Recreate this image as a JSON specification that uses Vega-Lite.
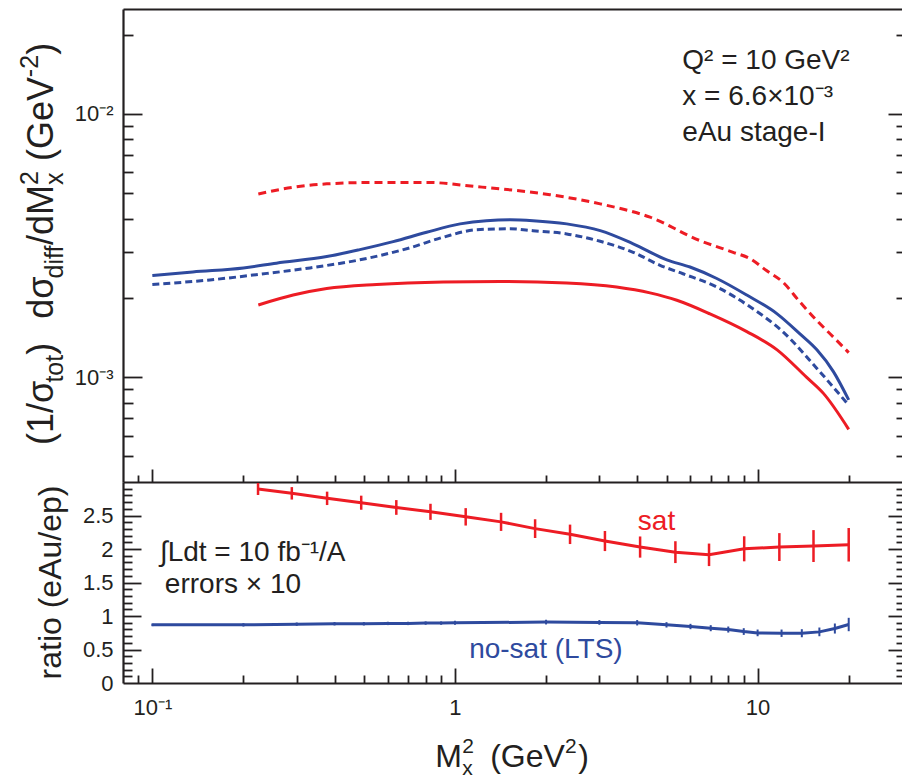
{
  "$schema": "https://vega.github.io/schema/vega-lite/v6.json",
  "width": 779,
  "height": 674,
  "autosize": {"type": "none"},
  "padding": {"left": 123, "top": 9, "right": 0, "bottom": 96},
  "background": "white",
  "config": {
    "view": {"stroke": null},
    "font": "Liberation Sans",
    "axis": {"domainColor": "#231f20", "tickColor": "#231f20", "labelColor": "#231f20", "titleColor": "#231f20", "domainWidth": 2.2, "tickWidth": 1.8, "grid": false, "labelFont": "Liberation Sans", "titleFont": "Liberation Sans"},
    "text": {"font": "Liberation Sans"}
  },
  "datasets": {
    "top": [
      {"series": "no-sat ep", "x": 0.1, "y": 0.00243}, {"series": "no-sat ep", "x": 0.136, "y": 0.00251}, {"series": "no-sat ep", "x": 0.2, "y": 0.0026}, {"series": "no-sat ep", "x": 0.257, "y": 0.00271}, {"series": "no-sat ep", "x": 0.377, "y": 0.00287}, {"series": "no-sat ep", "x": 0.485, "y": 0.00305}, {"series": "no-sat ep", "x": 0.625, "y": 0.00327}, {"series": "no-sat ep", "x": 0.806, "y": 0.00355}, {"series": "no-sat ep", "x": 1.04, "y": 0.00382}, {"series": "no-sat ep", "x": 1.27, "y": 0.00393}, {"series": "no-sat ep", "x": 1.52, "y": 0.00396}, {"series": "no-sat ep", "x": 1.81, "y": 0.00393}, {"series": "no-sat ep", "x": 2.34, "y": 0.00382}, {"series": "no-sat ep", "x": 3.02, "y": 0.0036}, {"series": "no-sat ep", "x": 3.88, "y": 0.00321}, {"series": "no-sat ep", "x": 5.01, "y": 0.00279}, {"series": "no-sat ep", "x": 5.98, "y": 0.00262}, {"series": "no-sat ep", "x": 7.33, "y": 0.00237}, {"series": "no-sat ep", "x": 9.21, "y": 0.00205}, {"series": "no-sat ep", "x": 11.6, "y": 0.00174}, {"series": "no-sat ep", "x": 13.8, "y": 0.00146}, {"series": "no-sat ep", "x": 15.7, "y": 0.00127}, {"series": "no-sat ep", "x": 17.8, "y": 0.00105}, {"series": "no-sat ep", "x": 20, "y": 0.00082},
      {"series": "no-sat eAu", "x": 0.1, "y": 0.00225}, {"series": "no-sat eAu", "x": 0.155, "y": 0.00234}, {"series": "no-sat eAu", "x": 0.227, "y": 0.00246}, {"series": "no-sat eAu", "x": 0.332, "y": 0.0026}, {"series": "no-sat eAu", "x": 0.485, "y": 0.00279}, {"series": "no-sat eAu", "x": 0.71, "y": 0.0031}, {"series": "no-sat eAu", "x": 0.915, "y": 0.0034}, {"series": "no-sat eAu", "x": 1.18, "y": 0.00363}, {"series": "no-sat eAu", "x": 1.52, "y": 0.00366}, {"series": "no-sat eAu", "x": 1.81, "y": 0.0036}, {"series": "no-sat eAu", "x": 2.34, "y": 0.0035}, {"series": "no-sat eAu", "x": 3.02, "y": 0.00328}, {"series": "no-sat eAu", "x": 3.88, "y": 0.00298}, {"series": "no-sat eAu", "x": 4.76, "y": 0.00266}, {"series": "no-sat eAu", "x": 5.67, "y": 0.00247}, {"series": "no-sat eAu", "x": 7.33, "y": 0.0022}, {"series": "no-sat eAu", "x": 9.44, "y": 0.00185}, {"series": "no-sat eAu", "x": 12.1, "y": 0.00149}, {"series": "no-sat eAu", "x": 15.7, "y": 0.00108}, {"series": "no-sat eAu", "x": 20, "y": 0.000783},
      {"series": "sat ep", "x": 0.224, "y": 0.00188}, {"series": "sat ep", "x": 0.292, "y": 0.00205}, {"series": "sat ep", "x": 0.377, "y": 0.00217}, {"series": "sat ep", "x": 0.551, "y": 0.00225}, {"series": "sat ep", "x": 0.915, "y": 0.0023}, {"series": "sat ep", "x": 1.41, "y": 0.00231}, {"series": "sat ep", "x": 2.34, "y": 0.00228}, {"series": "sat ep", "x": 3.42, "y": 0.0022}, {"series": "sat ep", "x": 4.41, "y": 0.00209}, {"series": "sat ep", "x": 5.41, "y": 0.00196}, {"series": "sat ep", "x": 6.96, "y": 0.00174}, {"series": "sat ep", "x": 9.21, "y": 0.00149}, {"series": "sat ep", "x": 11.6, "y": 0.00127}, {"series": "sat ep", "x": 14.5, "y": 0.001}, {"series": "sat ep", "x": 16.5, "y": 0.000868}, {"series": "sat ep", "x": 20, "y": 0.000634},
      {"series": "sat eAu", "x": 0.224, "y": 0.00496}, {"series": "sat eAu", "x": 0.292, "y": 0.00526}, {"series": "sat eAu", "x": 0.377, "y": 0.00542}, {"series": "sat eAu", "x": 0.551, "y": 0.00549}, {"series": "sat eAu", "x": 0.806, "y": 0.00549}, {"series": "sat eAu", "x": 1.18, "y": 0.00529}, {"series": "sat eAu", "x": 1.41, "y": 0.00519}, {"series": "sat eAu", "x": 2.06, "y": 0.00493}, {"series": "sat eAu", "x": 3.02, "y": 0.00455}, {"series": "sat eAu", "x": 4.41, "y": 0.00405}, {"series": "sat eAu", "x": 6.45, "y": 0.0033}, {"series": "sat eAu", "x": 8.3, "y": 0.00298}, {"series": "sat eAu", "x": 9.44, "y": 0.00282}, {"series": "sat eAu", "x": 10.7, "y": 0.00254}, {"series": "sat eAu", "x": 12.1, "y": 0.0023}, {"series": "sat eAu", "x": 13.8, "y": 0.00193}, {"series": "sat eAu", "x": 15.7, "y": 0.00164}, {"series": "sat eAu", "x": 17.8, "y": 0.00142}, {"series": "sat eAu", "x": 20, "y": 0.00124}
    ],
    "ratio": [
      {"series": "sat", "x": 0.2235, "r": 2.896, "lo": 2.806, "hi": 2.986}, {"series": "sat", "x": 0.289, "r": 2.831, "lo": 2.738, "hi": 2.924}, {"series": "sat", "x": 0.378, "r": 2.756, "lo": 2.656, "hi": 2.856}, {"series": "sat", "x": 0.49, "r": 2.691, "lo": 2.586, "hi": 2.796}, {"series": "sat", "x": 0.64, "r": 2.62, "lo": 2.51, "hi": 2.73}, {"series": "sat", "x": 0.83, "r": 2.555, "lo": 2.435, "hi": 2.675}, {"series": "sat", "x": 1.085, "r": 2.48, "lo": 2.35, "hi": 2.61}, {"series": "sat", "x": 1.42, "r": 2.405, "lo": 2.27, "hi": 2.54}, {"series": "sat", "x": 1.84, "r": 2.304, "lo": 2.164, "hi": 2.444}, {"series": "sat", "x": 2.4, "r": 2.219, "lo": 2.074, "hi": 2.364}, {"series": "sat", "x": 3.13, "r": 2.119, "lo": 1.969, "hi": 2.269}, {"series": "sat", "x": 4.09, "r": 2.029, "lo": 1.871, "hi": 2.187}, {"series": "sat", "x": 5.35, "r": 1.953, "lo": 1.79, "hi": 2.116}, {"series": "sat", "x": 6.91, "r": 1.913, "lo": 1.745, "hi": 2.081}, {"series": "sat", "x": 9.03, "r": 2.003, "lo": 1.816, "hi": 2.19}, {"series": "sat", "x": 11.8, "r": 2.029, "lo": 1.821, "hi": 2.237}, {"series": "sat", "x": 15.3, "r": 2.044, "lo": 1.806, "hi": 2.282}, {"series": "sat", "x": 20, "r": 2.063, "lo": 1.813, "hi": 2.313},
      {"series": "no-sat", "x": 0.1, "r": 0.868, "lo": 0.848, "hi": 0.888}, {"series": "no-sat", "x": 0.2, "r": 0.868, "lo": 0.843, "hi": 0.893}, {"series": "no-sat", "x": 0.3, "r": 0.878, "lo": 0.853, "hi": 0.903}, {"series": "no-sat", "x": 0.4, "r": 0.884, "lo": 0.859, "hi": 0.909}, {"series": "no-sat", "x": 0.5, "r": 0.884, "lo": 0.859, "hi": 0.909}, {"series": "no-sat", "x": 0.6, "r": 0.889, "lo": 0.864, "hi": 0.914}, {"series": "no-sat", "x": 0.7, "r": 0.889, "lo": 0.864, "hi": 0.914}, {"series": "no-sat", "x": 0.8, "r": 0.894, "lo": 0.869, "hi": 0.919}, {"series": "no-sat", "x": 0.9, "r": 0.894, "lo": 0.869, "hi": 0.919}, {"series": "no-sat", "x": 1, "r": 0.899, "lo": 0.869, "hi": 0.929}, {"series": "no-sat", "x": 2, "r": 0.909, "lo": 0.874, "hi": 0.944}, {"series": "no-sat", "x": 3, "r": 0.904, "lo": 0.869, "hi": 0.939}, {"series": "no-sat", "x": 4, "r": 0.899, "lo": 0.859, "hi": 0.939}, {"series": "no-sat", "x": 5, "r": 0.868, "lo": 0.828, "hi": 0.908}, {"series": "no-sat", "x": 6, "r": 0.843, "lo": 0.803, "hi": 0.883}, {"series": "no-sat", "x": 7, "r": 0.818, "lo": 0.773, "hi": 0.863}, {"series": "no-sat", "x": 8, "r": 0.798, "lo": 0.753, "hi": 0.843}, {"series": "no-sat", "x": 9, "r": 0.768, "lo": 0.718, "hi": 0.818}, {"series": "no-sat", "x": 10, "r": 0.748, "lo": 0.698, "hi": 0.798}, {"series": "no-sat", "x": 12, "r": 0.743, "lo": 0.688, "hi": 0.798}, {"series": "no-sat", "x": 14, "r": 0.743, "lo": 0.683, "hi": 0.803}, {"series": "no-sat", "x": 16, "r": 0.763, "lo": 0.698, "hi": 0.828}, {"series": "no-sat", "x": 18, "r": 0.813, "lo": 0.738, "hi": 0.888}, {"series": "no-sat", "x": 20, "r": 0.873, "lo": 0.773, "hi": 0.973}
    ],
    "ytitle": [
      {"t": "(1/σ", "x": 0.0469, "y": 0.0005526, "role": "main"},
      {"t": "tot", "x": 0.0469, "y": 0.0009538, "role": "sub"},
      {"t": ")", "x": 0.0469, "y": 0.0012165, "role": "main"},
      {"t": "dσ", "x": 0.0469, "y": 0.0016661, "role": "main"},
      {"t": "diff", "x": 0.0469, "y": 0.0023718, "role": "sub"},
      {"t": "/dM", "x": 0.0469, "y": 0.0031759, "role": "main"},
      {"t": "x", "x": 0.0469, "y": 0.0053665, "role": "sub"},
      {"t": "2", "x": 0.0469, "y": 0.0053665, "role": "sup"},
      {"t": "(GeV", "x": 0.0469, "y": 0.0066139, "role": "main"},
      {"t": "-2", "x": 0.0469, "y": 0.013781, "role": "sup"},
      {"t": ")", "x": 0.0469, "y": 0.016741, "role": "main"}
    ],
    "xtitle": [
      {"t": "M", "x": 0.86, "y": -1.254, "role": "main"},
      {"t": "2", "x": 1.056, "y": -1.254, "role": "sup"},
      {"t": "x", "x": 1.056, "y": -1.254, "role": "sub"},
      {"t": "(GeV", "x": 1.307, "y": -1.254, "role": "main"},
      {"t": "2", "x": 2.31, "y": -1.254, "role": "sup"},
      {"t": ")", "x": 2.555, "y": -1.254, "role": "main"}
    ],
    "annTop": [
      {"t": "Q² = 10 GeV²", "x": 5.64, "y": 0.01481},
      {"t": "x = 6.6×10⁻³", "x": 5.64, "y": 0.01082},
      {"t": "eAu stage-I", "x": 5.64, "y": 0.0079}
    ],
    "annBot": [
      {"t": "∫Ldt = 10 fb⁻¹/A", "x": 0.106, "y": 1.821, "kind": "note"},
      {"t": "errors × 10", "x": 0.11, "y": 1.343, "kind": "note"},
      {"t": "sat", "x": 4.02, "y": 2.284, "kind": "sat"},
      {"t": "no-sat (LTS)", "x": 1.114, "y": 0.373, "kind": "no-sat"}
    ]
  },
  "layer": [
    {
      "layer": [
        {
          "data": {"name": "top"},
          "transform": [{"filter": "datum.series == 'no-sat ep'"}],
          "mark": {"type": "line", "color": "#2e4a9e", "strokeWidth": 3, "interpolate": "monotone"},
          "encoding": {
            "x": {"field": "x", "type": "quantitative", "scale": {"type": "log", "domain": [0.08, 30], "nice": false},
              "axis": {"orient": "bottom", "offset": -201, "values": [0.09, 0.1, 0.2, 0.3, 0.4, 0.5, 0.6, 0.7, 0.8, 0.9, 1, 2, 3, 4, 5, 6, 7, 8, 9, 10, 20],
                "tickSize": {"condition": {"test": "abs(log(datum.value)/LN10 - round(log(datum.value)/LN10)) < 0.001", "value": -13}, "value": -7},
                "labels": false, "domain": true, "title": null}},
            "y": {"field": "y", "type": "quantitative", "scale": {"type": "log", "domain": [0.0004, 0.025], "range": [473, 0], "nice": false},
              "axis": {"orient": "left", "values": [0.0005, 0.0006, 0.0007, 0.0008, 0.0009, 0.001, 0.002, 0.003, 0.004, 0.005, 0.006, 0.007, 0.008, 0.009, 0.01, 0.02],
                "tickSize": {"condition": {"test": "abs(log(datum.value)/LN10 - round(log(datum.value)/LN10)) < 0.001", "value": -19}, "value": -10},
                "labels": false, "domain": true, "title": null}}
          }
        },
        {
          "data": {"name": "top"},
          "transform": [{"filter": "datum.series == 'no-sat eAu'"}],
          "mark": {"type": "line", "color": "#2e4a9e", "strokeWidth": 3, "strokeDash": [7, 4], "interpolate": "monotone"},
          "encoding": {
            "x": {"field": "x", "type": "quantitative", "scale": {"type": "log", "domain": [0.08, 30], "nice": false},
              "axis": {"orient": "top", "ticks": false, "labels": false, "domain": true, "title": null}},
            "y": {"field": "y", "type": "quantitative", "scale": {"type": "log", "domain": [0.0004, 0.025], "range": [473, 0], "nice": false},
              "axis": {"orient": "left", "values": [0.001, 0.01], "ticks": false, "domain": false, "labelFontSize": 22, "labelPadding": 10,
                "labelExpr": "datum.value < 0.005 ? '10⁻³' : '10⁻²'", "title": null}}
          }
        },
        {
          "data": {"name": "top"},
          "transform": [{"filter": "datum.series == 'sat ep'"}],
          "mark": {"type": "line", "color": "#ed1c24", "strokeWidth": 3, "interpolate": "monotone"},
          "encoding": {
            "x": {"field": "x", "type": "quantitative", "scale": {"type": "log", "domain": [0.08, 30], "nice": false}, "axis": null},
            "y": {"field": "y", "type": "quantitative", "scale": {"type": "log", "domain": [0.0004, 0.025], "range": [473, 0], "nice": false},
              "axis": {"orient": "right", "values": [0.0005, 0.0006, 0.0007, 0.0008, 0.0009, 0.001, 0.002, 0.003, 0.004, 0.005, 0.006, 0.007, 0.008, 0.009, 0.01, 0.02],
                "tickSize": {"condition": {"test": "abs(log(datum.value)/LN10 - round(log(datum.value)/LN10)) < 0.001", "value": -14}, "value": -6},
                "labels": false, "domain": false, "title": null}}
          }
        },
        {
          "data": {"name": "top"},
          "transform": [{"filter": "datum.series == 'sat eAu'"}],
          "mark": {"type": "line", "color": "#ed1c24", "strokeWidth": 3, "strokeDash": [8, 5], "interpolate": "monotone"},
          "encoding": {
            "x": {"field": "x", "type": "quantitative", "scale": {"type": "log", "domain": [0.08, 30], "nice": false}, "axis": null},
            "y": {"field": "y", "type": "quantitative", "scale": {"type": "log", "domain": [0.0004, 0.025], "range": [473, 0], "nice": false}, "axis": null}
          }
        },
        {
          "data": {"name": "ytitle"},
          "transform": [{"filter": "datum.role == 'main'"}],
          "mark": {"type": "text", "angle": 270, "align": "left", "baseline": "alphabetic", "fontSize": 36, "color": "#231f20"},
          "encoding": {
            "x": {"field": "x", "type": "quantitative", "scale": {"type": "log", "domain": [0.08, 30], "nice": false}, "axis": null},
            "y": {"field": "y", "type": "quantitative", "scale": {"type": "log", "domain": [0.0004, 0.025], "range": [473, 0], "nice": false}, "axis": null},
            "text": {"field": "t"}
          }
        },
        {
          "data": {"name": "ytitle"},
          "transform": [{"filter": "datum.role == 'sub'"}],
          "mark": {"type": "text", "angle": 270, "align": "left", "baseline": "alphabetic", "fontSize": 25, "dy": 10, "color": "#231f20"},
          "encoding": {
            "x": {"field": "x", "type": "quantitative", "scale": {"type": "log", "domain": [0.08, 30], "nice": false}, "axis": null},
            "y": {"field": "y", "type": "quantitative", "scale": {"type": "log", "domain": [0.0004, 0.025], "range": [473, 0], "nice": false}, "axis": null},
            "text": {"field": "t"}
          }
        },
        {
          "data": {"name": "ytitle"},
          "transform": [{"filter": "datum.role == 'sup'"}],
          "mark": {"type": "text", "angle": 270, "align": "left", "baseline": "alphabetic", "fontSize": 25, "dy": -15, "color": "#231f20"},
          "encoding": {
            "x": {"field": "x", "type": "quantitative", "scale": {"type": "log", "domain": [0.08, 30], "nice": false}, "axis": null},
            "y": {"field": "y", "type": "quantitative", "scale": {"type": "log", "domain": [0.0004, 0.025], "range": [473, 0], "nice": false}, "axis": null},
            "text": {"field": "t"}
          }
        },
        {
          "data": {"name": "annTop"},
          "mark": {"type": "text", "align": "left", "baseline": "alphabetic", "fontSize": 28, "color": "#231f20"},
          "encoding": {
            "x": {"field": "x", "type": "quantitative", "scale": {"type": "log", "domain": [0.08, 30], "nice": false}, "axis": null},
            "y": {"field": "y", "type": "quantitative", "scale": {"type": "log", "domain": [0.0004, 0.025], "range": [473, 0], "nice": false}, "axis": null},
            "text": {"field": "t"}
          }
        }
      ],
      "resolve": {"axis": {"x": "independent", "y": "independent"}}
    },
    {
      "layer": [
        {
          "data": {"name": "ratio"},
          "transform": [{"filter": "datum.series == 'sat'"}],
          "mark": {"type": "line", "color": "#ed1c24", "strokeWidth": 3},
          "encoding": {
            "x": {"field": "x", "type": "quantitative", "scale": {"type": "log", "domain": [0.08, 30], "nice": false},
              "axis": {"orient": "bottom", "values": [0.09, 0.1, 0.2, 0.3, 0.4, 0.5, 0.6, 0.7, 0.8, 0.9, 1, 2, 3, 4, 5, 6, 7, 8, 9, 10, 20],
                "tickSize": {"condition": {"test": "abs(log(datum.value)/LN10 - round(log(datum.value)/LN10)) < 0.001", "value": -15}, "value": -8},
                "labels": false, "domain": true, "title": null}},
            "y": {"field": "r", "type": "quantitative", "scale": {"type": "linear", "domain": [0, 3], "range": [674, 473], "nice": false, "zero": false},
              "axis": {"orient": "left", "values": [0.1, 0.2, 0.3, 0.4, 0.5, 0.6, 0.7, 0.8, 0.9, 1, 1.1, 1.2, 1.3, 1.4, 1.5, 1.6, 1.7, 1.8, 1.9, 2, 2.1, 2.2, 2.3, 2.4, 2.5, 2.6, 2.7, 2.8, 2.9],
                "tickSize": {"condition": {"test": "abs(datum.value*2 - round(datum.value*2)) < 0.001", "value": -18}, "value": -9},
                "labels": false, "domain": true, "title": null}}
          }
        },
        {
          "data": {"name": "ratio"},
          "transform": [{"filter": "datum.series == 'sat'"}],
          "mark": {"type": "rule", "color": "#ed1c24", "strokeWidth": 2.5},
          "encoding": {
            "x": {"field": "x", "type": "quantitative", "scale": {"type": "log", "domain": [0.08, 30], "nice": false},
              "axis": {"orient": "bottom", "values": [0.1, 1, 10], "ticks": false, "domain": false, "labelFontSize": 22, "labelPadding": 14,
                "labelExpr": "datum.value < 0.5 ? '10⁻¹' : datum.value < 5 ? '1' : '10'", "title": null}},
            "y": {"field": "lo", "type": "quantitative", "scale": {"type": "linear", "domain": [0, 3], "range": [674, 473], "nice": false, "zero": false},
              "axis": {"orient": "left", "values": [0, 0.5, 1, 1.5, 2, 2.5], "format": "~g", "ticks": false, "domain": false, "labelFontSize": 22, "labelPadding": 10,
                "title": "ratio (eAu/ep)", "titleFontSize": 32, "titleFontWeight": "normal", "titleAngle": 270, "titleAlign": "center", "titleBaseline": "alphabetic", "titleX": -63, "titleY": 573}},
            "y2": {"field": "hi"}
          }
        },
        {
          "data": {"name": "ratio"},
          "transform": [{"filter": "datum.series == 'no-sat'"}],
          "mark": {"type": "line", "color": "#2e4a9e", "strokeWidth": 3},
          "encoding": {
            "x": {"field": "x", "type": "quantitative", "scale": {"type": "log", "domain": [0.08, 30], "nice": false}, "axis": null},
            "y": {"field": "r", "type": "quantitative", "scale": {"type": "linear", "domain": [0, 3], "range": [674, 473], "nice": false, "zero": false},
              "axis": {"orient": "right", "values": [0.1, 0.2, 0.3, 0.4, 0.5, 0.6, 0.7, 0.8, 0.9, 1, 1.1, 1.2, 1.3, 1.4, 1.5, 1.6, 1.7, 1.8, 1.9, 2, 2.1, 2.2, 2.3, 2.4, 2.5, 2.6, 2.7, 2.8, 2.9],
                "tickSize": {"condition": {"test": "abs(datum.value*2 - round(datum.value*2)) < 0.001", "value": -14}, "value": -6},
                "labels": false, "domain": false, "title": null}}
          }
        },
        {
          "data": {"name": "ratio"},
          "transform": [{"filter": "datum.series == 'no-sat'"}],
          "mark": {"type": "rule", "color": "#2e4a9e", "strokeWidth": 2},
          "encoding": {
            "x": {"field": "x", "type": "quantitative", "scale": {"type": "log", "domain": [0.08, 30], "nice": false}, "axis": null},
            "y": {"field": "lo", "type": "quantitative", "scale": {"type": "linear", "domain": [0, 3], "range": [674, 473], "nice": false, "zero": false}, "axis": null},
            "y2": {"field": "hi"}
          }
        },
        {
          "data": {"name": "xtitle"},
          "transform": [{"filter": "datum.role == 'main'"}],
          "mark": {"type": "text", "align": "left", "baseline": "alphabetic", "fontSize": 32, "color": "#231f20"},
          "encoding": {
            "x": {"field": "x", "type": "quantitative", "scale": {"type": "log", "domain": [0.08, 30], "nice": false}, "axis": null},
            "y": {"field": "y", "type": "quantitative", "scale": {"type": "linear", "domain": [0, 3], "range": [674, 473], "nice": false, "zero": false}, "axis": null},
            "text": {"field": "t"}
          }
        },
        {
          "data": {"name": "xtitle"},
          "transform": [{"filter": "datum.role == 'sub'"}],
          "mark": {"type": "text", "align": "left", "baseline": "alphabetic", "fontSize": 21, "dy": 8, "color": "#231f20"},
          "encoding": {
            "x": {"field": "x", "type": "quantitative", "scale": {"type": "log", "domain": [0.08, 30], "nice": false}, "axis": null},
            "y": {"field": "y", "type": "quantitative", "scale": {"type": "linear", "domain": [0, 3], "range": [674, 473], "nice": false, "zero": false}, "axis": null},
            "text": {"field": "t"}
          }
        },
        {
          "data": {"name": "xtitle"},
          "transform": [{"filter": "datum.role == 'sup'"}],
          "mark": {"type": "text", "align": "left", "baseline": "alphabetic", "fontSize": 21, "dy": -14, "color": "#231f20"},
          "encoding": {
            "x": {"field": "x", "type": "quantitative", "scale": {"type": "log", "domain": [0.08, 30], "nice": false}, "axis": null},
            "y": {"field": "y", "type": "quantitative", "scale": {"type": "linear", "domain": [0, 3], "range": [674, 473], "nice": false, "zero": false}, "axis": null},
            "text": {"field": "t"}
          }
        },
        {
          "data": {"name": "annBot"},
          "mark": {"type": "text", "align": "left", "baseline": "alphabetic", "fontSize": 28},
          "encoding": {
            "x": {"field": "x", "type": "quantitative", "scale": {"type": "log", "domain": [0.08, 30], "nice": false}, "axis": null},
            "y": {"field": "y", "type": "quantitative", "scale": {"type": "linear", "domain": [0, 3], "range": [674, 473], "nice": false, "zero": false}, "axis": null},
            "text": {"field": "t"},
            "color": {"condition": [{"test": "datum.kind == 'sat'", "value": "#ed1c24"}, {"test": "datum.kind == 'no-sat'", "value": "#2e4a9e"}], "value": "#231f20"}
          }
        }
      ],
      "resolve": {"axis": {"x": "independent", "y": "independent"}}
    }
  ],
  "resolve": {"scale": {"y": "independent"}, "axis": {"x": "independent", "y": "independent"}}
}
